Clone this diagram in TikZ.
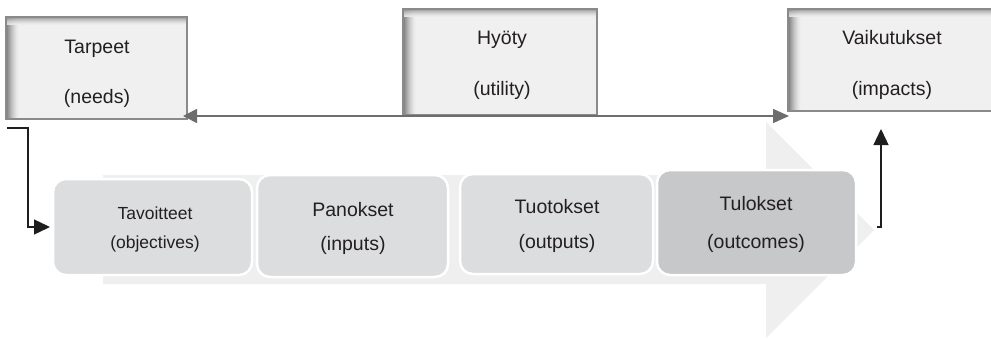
\documentclass[tikz,border=0pt]{standalone}
\usepackage{fontspec}
\setmainfont{Liberation Sans}
\usetikzlibrary{arrows.meta}

\definecolor{txt}{HTML}{231F20}
\definecolor{boxfill}{HTML}{F0F0F0}
\definecolor{boxedge}{HTML}{8A8A8A}
\definecolor{boxshade}{HTML}{7A7A7A}
\definecolor{cardfill}{HTML}{DCDDDF}
\definecolor{cardfilldark}{HTML}{C7C8CA}
\definecolor{flow}{HTML}{EFEFEF}
\definecolor{linkgray}{HTML}{6D6D6D}
\definecolor{linkdark}{HTML}{1E1E1E}

\tikzset{
  topbox/.style={rectangle, draw=boxedge, line width=2pt, fill=boxfill,
    inner sep=0pt, outer sep=0pt,
    path picture={
      % inner shadow along the left edge
      \foreach \i in {0,...,12}{
        \pgfmathsetmacro\m{100*(1-\i/13)^1.6}
        \fill[boxshade!\m!boxfill]
          ([xshift=\i pt]path picture bounding box.north west) rectangle
          ([xshift=\i pt+1.05pt]path picture bounding box.south west);
      }
      % inner shadow along the top edge
      \foreach \i in {0,...,7}{
        \pgfmathsetmacro\m{85*(1-\i/8)^1.6}
        \fill[boxshade!\m!boxfill, fill opacity=0.85]
          ([yshift=-\i pt]path picture bounding box.north west) rectangle
          ([yshift=-\i pt-1.05pt]path picture bounding box.north east);
      }
    }},
  stepcard/.style={rectangle, rounded corners=13pt, fill=cardfill,
    draw=white, line width=2.5pt, inner sep=0pt, outer sep=0pt},
  lbl/.style={anchor=base, inner sep=0pt, text=txt,
    font=\fontsize{19.5}{23}\selectfont},
  lblsmall/.style={lbl, font=\fontsize{17.5}{21}\selectfont},
  twoway/.style={draw=linkgray, line width=1.6pt,
    {Triangle[length=14pt,width=14pt]}-{Triangle[length=16pt,width=14pt]}},
  elbow/.style={draw=linkdark, line width=1.3pt,
    -{Triangle[length=16pt,width=15pt]}},
}

\begin{document}
\begin{tikzpicture}[x=1pt,y=-1pt]
\useasboundingbox (0,0) rectangle (991,338);
\clip (0,0) rectangle (991,338);

% wide process arrow in the background
\fill[flow] (103,175) -- (766,175) -- (766,122) -- (874,230)
  -- (766,338) -- (766,284) -- (103,284) -- cycle;

% process steps
\node[stepcard, minimum width=199pt, minimum height=96pt] (tav) at (152.5,227) {};
\node[stepcard, minimum width=191pt, minimum height=102pt] (pan) at (352.5,226) {};
\node[stepcard, minimum width=193pt, minimum height=100pt] (tuo) at (556.5,224) {};
\node[stepcard, fill=cardfilldark, minimum width=199pt, minimum height=105pt] (tul) at (756.5,222.5) {};

\node[lblsmall] (tavA) at (155,219) {Tavoitteet};
\node[lblsmall] (tavB) at (155,248) {(objectives)};
\node[lbl] (panA) at (353,216) {Panokset};
\node[lbl] (panB) at (353,250) {(inputs)};
\node[lbl] (tuoA) at (557,213) {Tuotokset};
\node[lbl] (tuoB) at (557,248) {(outputs)};
\node[lbl] (tulA) at (756,210) {Tulokset};
\node[lbl] (tulB) at (756,248) {(outcomes)};

% upper boxes
\node[topbox, minimum width=181pt, minimum height=102pt] (tar) at (96.5,68) {};
\node[topbox, minimum width=194pt, minimum height=106pt] (hyo) at (500,62) {};
\node[topbox, minimum width=208pt, minimum height=102pt] (vai) at (892,60) {};

\node[lbl] (tarA) at (97,53) {Tarpeet};
\node[lbl] (tarB) at (97,103) {(needs)};
\node[lbl] (hyoA) at (502,44) {Hyöty};
\node[lbl] (hyoB) at (502,95) {(utility)};
\node[lbl] (vaiA) at (892,44) {Vaikutukset};
\node[lbl] (vaiB) at (892,95) {(impacts)};

% connectors
\draw[twoway] ([shift={(-4pt,3pt)}]tar.south east) -- ([shift={(1pt,-5pt)}]vai.south west);
\draw[elbow] ([shift={(1pt,-9pt)}]tar.south west) -- ++(21,0) |- ([xshift=-3pt]tav.west);
\coordinate (tulout) at ([shift={(21pt,-4.5pt)}]tul.east);
\draw[elbow] (tulout) -- ++(4,0) -- ++(0,-98);
\end{tikzpicture}
\end{document}
